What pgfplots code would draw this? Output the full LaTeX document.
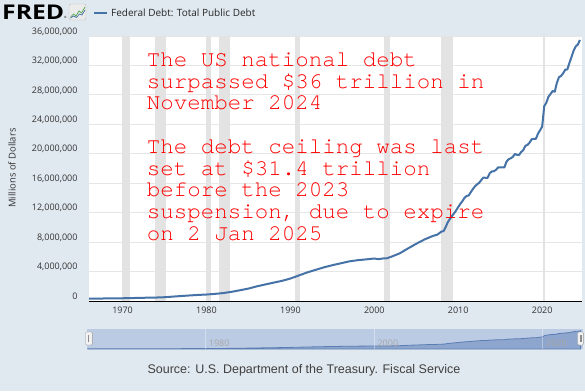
\documentclass[border=0pt]{standalone}
\usepackage{pgfplots}
\pgfplotsset{compat=1.18}
\usepackage{pgfplotstable}
\usepackage{fontspec}
\setmainfont{Open Sans}
\newfontfamily\osans{Open Sans}
\newfontfamily\lsans{Liberation Sans}
\newfontfamily\cour{TeX Gyre Cursor}
\definecolor{bg}{HTML}{E1E9F0}
\definecolor{fredblue}{HTML}{4572A7}
\definecolor{recgrey}{HTML}{E3E3E3}
\definecolor{gridc}{HTML}{E6E6E6}
\definecolor{navbg}{HTML}{BCCBE4}
\definecolor{navfill}{HTML}{8EA6CE}
\definecolor{navline}{HTML}{5A7DB4}
\definecolor{txt}{HTML}{333333}

\pgfplotstableread{
year debt
1966.0 320999
1967.0 329000
1968.0 345000
1969.0 359000
1970.0 372000
1971.0 394000
1972.0 425000
1973.0 451000
1974.0 471000
1975.0 515000
1976.0 598000
1977.0 680000
1978.0 755000
1979.0 826000
1980.0 879000
1981.0 965000
1982.0 1079000
1983.0 1250000
1984.0 1463000
1985.0 1687000
1986.0 1990000
1987.0 2246000
1988.0 2496000
1989.0 2738000
1990.0 3053000
1991.0 3465000
1992.0 3881000
1993.0 4231000
1994.0 4575000
1995.0 4865000
1996.0 5118000
1997.0 5381000
1998.0 5543000
1999.0 5651000
2000.0 5773000
2000.5 5686000
2001.0 5773000
2001.5 5807000
2002.0 6006000
2003.0 6460000
2004.0 7131000
2005.0 7777000
2006.0 8371000
2007.0 8849000
2007.5 9008000
2008.0 9437000
2008.25 9492000
2008.5 10025000
2008.75 10700000
2009.0 11127000
2009.25 11545000
2009.5 11910000
2009.75 12311000
2010.0 12773000
2010.25 13202000
2010.5 13562000
2010.75 14025000
2011.0 14270000
2011.25 14343000
2011.5 14790000
2011.75 15223000
2012.0 15582000
2012.25 15856000
2012.5 16066000
2012.75 16433000
2013.0 16771000
2013.25 16738000
2013.5 16738000
2013.75 17352000
2014.0 17601000
2014.25 17633000
2014.5 17824000
2014.75 18141000
2015.0 18152000
2015.25 18152000
2015.5 18151000
2015.75 18922000
2016.0 19264000
2016.25 19382000
2016.5 19573000
2016.75 19977000
2017.0 19846000
2017.25 19845000
2017.5 20245000
2017.75 20493000
2018.0 21090000
2018.25 21195000
2018.5 21516000
2018.75 21974000
2019.0 22028000
2019.25 22023000
2019.5 22719000
2019.75 23201000
2020.0 23687000
2020.25 26477000
2020.5 26945000
2020.75 27748000
2021.0 28133000
2021.25 28529000
2021.5 28428000
2021.75 29617000
2022.0 30401000
2022.25 30568000
2022.5 30929000
2022.75 31420000
2023.0 31458000
2023.25 32332000
2023.5 33167000
2023.75 34001000
2024.0 34587000
2024.25 34832000
2024.5 35464000
}\debt

\begin{document}
\begin{tikzpicture}
\path[use as bounding box, fill=bg] (0pt,0pt) rectangle (585pt,391pt);

% main axis
\begin{axis}[
  at={(89pt,90pt)}, anchor=south west,
  scale only axis, width=493pt, height=265pt,
  xmin=1966, xmax=2024.75, ymin=0, ymax=36000000,
  axis background/.style={fill=white},
  axis line style={draw=none},
  major tick length=0pt,
  scaled y ticks=false, scaled x ticks=false,
  xtick={1970,1980,1990,2000,2010,2020},
  ytick={0,4000000,8000000,12000000,16000000,20000000,24000000,28000000,32000000,36000000},
  yticklabels={0,{4,000,000},{8,000,000},{12,000,000},{16,000,000},{20,000,000},{24,000,000},{28,000,000},{32,000,000},{36,000,000}},
  xticklabels={1970,1980,1990,2000,2010,2020},
  /pgf/number format/assume math mode=true,
  ticklabel style={font=\osans\fontsize{9}{10}\selectfont, text=txt},
  yticklabel style={anchor=east, xshift=-8pt, yshift=4.5pt},
  xticklabel style={anchor=center, yshift=-9pt},
  ymajorgrids, grid style={gridc, line width=0.8pt},
  clip=false,
]
\fill[recgrey] (axis cs:1969.917,0) rectangle (axis cs:1970.833,36000000);
\fill[recgrey] (axis cs:1973.833,0) rectangle (axis cs:1975.167,36000000);
\fill[recgrey] (axis cs:1980.0,0) rectangle (axis cs:1980.5,36000000);
\fill[recgrey] (axis cs:1981.5,0) rectangle (axis cs:1982.833,36000000);
\fill[recgrey] (axis cs:1990.5,0) rectangle (axis cs:1991.167,36000000);
\fill[recgrey] (axis cs:2001.167,0) rectangle (axis cs:2001.833,36000000);
\fill[recgrey] (axis cs:2007.917,0) rectangle (axis cs:2009.417,36000000);
\fill[recgrey] (axis cs:2020.083,0) rectangle (axis cs:2020.333,36000000);
\addplot[fredblue, line width=2pt, line join=round] table[x=year,y=debt] {\debt};
\draw[black, line width=1pt] (rel axis cs:0,0) -- (rel axis cs:1,0);
\end{axis}

% navigator
\begin{axis}[
  at={(87.3pt,42pt)}, anchor=south west,
  scale only axis, width=495.4pt, height=20pt,
  xmin=1966, xmax=2024.75, ymin=0, ymax=39000000,
  axis background/.style={fill=navbg},
  axis line style={draw=none},
  xtick=\empty, ytick=\empty,
  clip=true,
]
\addplot[fill=navfill, draw=navline, line width=0.8pt] table[x=year,y=debt] {\debt} \closedcycle;
\draw[white, opacity=0.35] (axis cs:1980,0) -- (axis cs:1980,39000000);
\draw[white, opacity=0.35] (axis cs:2000,0) -- (axis cs:2000,39000000);
\draw[white, opacity=0.35] (axis cs:2020,0) -- (axis cs:2020,39000000);
\node[anchor=west, font=\osans\fontsize{9}{10}\selectfont, text=black!35, inner sep=0pt] at (axis cs:1980.4,11000000) {1980};
\node[anchor=west, font=\osans\fontsize{9}{10}\selectfont, text=black!35, inner sep=0pt] at (axis cs:2000.4,11000000) {2000};
\node[anchor=west, font=\osans\fontsize{9}{10}\selectfont, text=black!35, inner sep=0pt] at (axis cs:2020.4,11000000) {2020};
\end{axis}

\begin{scope}[x=1pt,y=1pt]
% navigator handles
\draw[black!40, fill=black!5, rounded corners=1pt] (85.7,46) rectangle (92.3,59);
\draw[black!45] (88.3,49) -- (88.3,56);
\draw[black!40, fill=black!5, rounded corners=1pt] (577.7,46) rectangle (583.3,59);
\draw[black!45] (579.8,49) -- (579.8,56);
\draw[black!45] (581,49) -- (581,56);

% header
\node[anchor=west, inner sep=0pt] at (2,379) {\resizebox{62pt}{14.5pt}{\osans\bfseries FRED}};
\node[anchor=west, inner sep=0pt, font=\osans\fontsize{3}{3}\selectfont] at (64,373.5) {\textregistered};
\draw[black!25, fill=black!8, rounded corners=1.5pt] (69,371) rectangle (86,387);
\draw[green!50!black!70, line width=0.7pt] (70.5,374) -- (73.5,377) -- (76,375) -- (79,380) -- (81.5,378) -- (85,384);
\draw[fredblue, line width=0.7pt] (70.5,373) -- (73.5,375) -- (76.5,373.5) -- (79.5,377) -- (82,376) -- (85,381);
\draw[fredblue, line width=2.5pt] (94,378) -- (107,378);
\node[anchor=west, inner sep=0pt, font=\osans\fontsize{10}{12}\selectfont, text=black!85] at (111,378) {Federal Debt: Total Public Debt};

% y label
\node[rotate=90, font=\osans\fontsize{9.5}{11}\selectfont, text=txt] at (12,223) {Millions of Dollars};

% source
\node[font=\lsans\fontsize{12.5}{14}\selectfont, text=black!75] at (304,21) {Source: U.S. Department of the Treasury. Fiscal Service};

% annotation
\begin{scope}[every node/.style={anchor=base west, inner sep=0pt, text=red, font=\cour\fontsize{22.5}{21.7}\selectfont}]
\node at (146.7,391-66.7) {The US national debt};
\node at (146.7,391-88.4) {surpassed \$36 trillion in};
\node at (146.7,391-110.0) {November 2024};
\node at (146.7,391-153.5) {The debt ceiling was last};
\node at (146.7,391-175.2) {set at \$31.4 trillion};
\node at (146.7,391-196.8) {before the 2023};
\node at (146.7,391-218.5) {suspension, due to expire};
\node at (146.7,391-240.2) {on 2 Jan 2025};
\end{scope}
\end{scope}
\end{tikzpicture}
\end{document}
